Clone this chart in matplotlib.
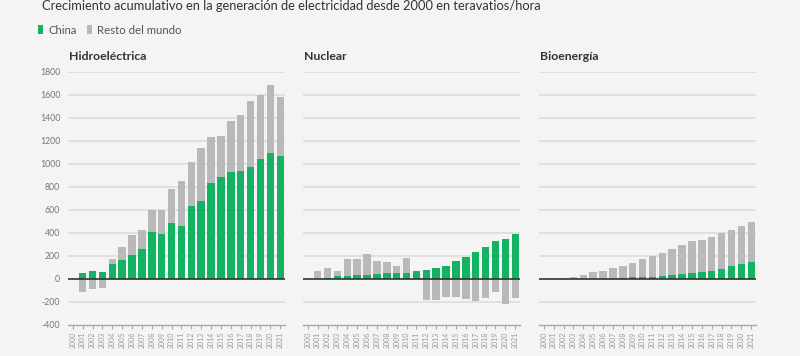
import matplotlib
matplotlib.use('Agg')
import matplotlib.pyplot as plt
from matplotlib.patches import Patch
import numpy as np

plt.rcParams['font.family'] = ['Lato', 'DejaVu Sans']

YEARS = list(range(2000, 2022))

# teravatios/hora, acumulado desde 2000
hidro_china = [0, 55, 67, 61, 128, 168, 209, 261, 411, 391, 484, 464,
               637, 678, 832, 887, 925, 939, 971, 1043, 1093, 1070]
hidro_resto = [0, -116, -90, -81, 43, 108, 171, 162, 192, 212, 296, 383,
               375, 461, 400, 354, 446, 482, 572, 552, 591, 507]

nuclear_china = [0, 0, 5, 23, 29, 30, 34, 43, 49, 49, 55, 72,
                 81, 93, 116, 154, 194, 232, 275, 330, 348, 391]
nuclear_resto = [0, 67, 88, 47, 145, 147, 181, 114, 99, 61, 125, 0,
                 -185, -180, -154, -159, -171, -188, -165, -113, -220, -162]

bio_china = [0, 0, 0, 0, 0, 0, 0, 3, 12, 17, 20, 20,
             26, 31, 41, 49, 58, 72, 90, 110, 130, 145]
bio_resto = [0, 3, 9, 20, 35, 61, 72, 93, 101, 122, 157, 177,
             203, 230, 255, 279, 281, 293, 310, 319, 331, 351]

PANELS = [
    ('Hidroeléctrica', hidro_china, hidro_resto),
    ('Nuclear', nuclear_china, nuclear_resto),
    ('Bioenergía', bio_china, bio_resto),
]

GREEN = '#13b363'
GREY = '#b9b9b9'
BG = '#f4f4f4'

fig = plt.figure(figsize=(8, 3.56), dpi=100, facecolor=BG)

lefts = [68, 303, 539]
x = np.arange(len(YEARS))
for i, (name, china, resto) in enumerate(PANELS):
    ax = fig.add_axes([lefts[i] / 800, 1 - 325 / 356, 217 / 800, 253.3 / 356])
    ax.set_facecolor(BG)
    china = np.array(china)
    resto = np.array(resto)
    # resto apilado sobre China si es positivo, hacia abajo desde 0 si es negativo
    bottom = np.where(resto >= 0, np.maximum(china, 0), 0)
    ax.bar(x, china, width=0.76, color=GREEN, zorder=3)
    ax.bar(x, resto, bottom=bottom, width=0.76, color=GREY, zorder=3)

    ax.set_xlim(-0.48, 21.48)
    ax.set_ylim(-400, 1800)
    for v in range(-200, 1801, 200):
        if v != 0:
            ax.axhline(v, color='#dedede', lw=1.3, zorder=1)
    ax.axhline(0, color='#333333', lw=1.2, zorder=4)

    for s in ['top', 'right', 'left']:
        ax.spines[s].set_visible(False)
    ax.spines['bottom'].set_color('#a8a8a8')
    ax.spines['bottom'].set_linewidth(1.0)

    ax.set_xticks(x)
    ax.set_xticklabels([str(y) for y in YEARS], rotation=90, fontsize=5,
                       color='#9a9a9a')
    ax.tick_params(axis='x', length=3, width=0.8, color='#a8a8a8', pad=2)
    ax.set_yticks(range(-400, 1801, 200))
    if i == 0:
        ax.set_yticklabels([str(v) for v in range(-400, 1801, 200)],
                           fontsize=6.3, color='#777777')
        ax.tick_params(axis='y', length=0, pad=5.5)
    else:
        ax.tick_params(axis='y', length=0, labelleft=False)

    fig.text((lefts[i] + 1) / 800, 1 - 60 / 356, name, fontsize=8.8,
             fontweight='bold', color='#333333', va='baseline')

fig.text(42 / 800, 1 - 10 / 356,
         'Crecimiento acumulativo en la generación de electricidad desde 2000 en teravatios/hora',
         fontsize=9.25, color='#333333', va='baseline')

handles = [Patch(facecolor=GREEN, edgecolor='none', label='China'),
           Patch(facecolor=GREY, edgecolor='none', label='Resto del mundo')]
fig.legend(handles=handles, loc='center left', bbox_to_anchor=(36 / 800, 1 - 30 / 356),
           ncol=2, frameon=False, fontsize=8.2, handlelength=0.45,
           handleheight=0.8, handletextpad=0.45, columnspacing=0.9,
           labelcolor='#555555', borderaxespad=0, borderpad=0.2)

fig.savefig('out.png', dpi=100, facecolor=BG)
